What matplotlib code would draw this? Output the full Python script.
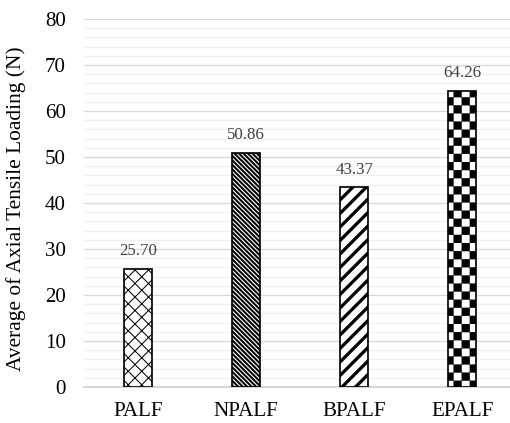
import warnings

import numpy as np
import matplotlib
matplotlib.use("Agg")
from matplotlib import pyplot as plt
from matplotlib import hatch as mhatch
from matplotlib.ticker import MultipleLocator

warnings.filterwarnings("ignore")

categories = ["PALF", "NPALF", "BPALF", "EPALF"]
values = [25.70, 50.86, 43.37, 64.26]
value_labels = ["25.70", "50.86", "43.37", "64.26"]
hatches = ["xx", "\\\\\\\\\\\\", "//", "c"]
hatch_widths = [0.9, 1.8, 2.9, 0.2]
y_ticks = [0, 10, 20, 30, 40, 50, 60, 70, 80]


class CheckerHatch(mhatch.HatchPatternBase):
    # filled checkerboard squares, one "c" gives 10 cells per tile side
    filled = True

    def __init__(self, hatch, density):
        self.cells = 10 * hatch.count("c")
        self.num_squares = self.cells * self.cells // 2
        self.num_vertices = self.num_squares * 5

    def set_vertices_and_codes(self, vertices, codes):
        s = 1.0 / self.cells
        k = 0
        for i in range(self.cells):
            for j in range(self.cells):
                if (i + j) % 2:
                    continue
                x0, y0 = i * s, j * s
                vertices[k:k + 5] = [(x0, y0), (x0 + s, y0), (x0 + s, y0 + s),
                                     (x0, y0 + s), (x0, y0)]
                codes[k] = matplotlib.path.Path.MOVETO
                codes[k + 1:k + 4] = matplotlib.path.Path.LINETO
                codes[k + 4] = matplotlib.path.Path.CLOSEPOLY
                k += 5


mhatch._hatch_types.append(CheckerHatch)

dpi = 81
plt.rcParams["font.family"] = ["Liberation Serif", "DejaVu Serif"]
plt.rcParams["hatch.color"] = "black"

fig = plt.figure(figsize=(511 / dpi, 423 / dpi), dpi=dpi)
ax = fig.add_axes([84 / 511, 36 / 423, 427 / 511, 368 / 423])

x = np.arange(len(categories))
bars = ax.bar(x, values, width=0.26, color="white", edgecolor="black",
              linewidth=1.5, zorder=3)
for bar, h, hw in zip(bars, hatches, hatch_widths):
    bar.set_hatch(h)
    if hasattr(bar, "set_hatch_linewidth"):
        bar.set_hatch_linewidth(hw)

for xi, v, lab in zip(x, values, value_labels):
    ax.annotate(lab, (xi, v), xytext=(0, 12.4), textcoords="offset points",
                ha="center", va="baseline", fontsize=15, color="#404040")

ax.set_xlim(-0.5, 3.45)
ax.set_ylim(0, 80)
ax.set_yticks(y_ticks)
ax.yaxis.set_minor_locator(MultipleLocator(2))
ax.set_xticks(x)
ax.set_xticklabels(categories)

ax.grid(which="major", axis="y", color="#d9d9d9", linewidth=1.2, zorder=0)
ax.grid(which="minor", axis="y", color="#f0f0f0", linewidth=1.2, zorder=0)
ax.set_axisbelow(True)

for side in ["top", "right", "left"]:
    ax.spines[side].set_visible(False)
ax.spines["bottom"].set_color("#d0d0d0")
ax.spines["bottom"].set_linewidth(1.5)

ax.tick_params(axis="both", which="both", length=0, labelsize=18.7,
               colors="black")
ax.tick_params(axis="x", pad=13.5)
ax.tick_params(axis="y", pad=16)

ax.set_ylabel("Average of Axial Tensile Loading (N)", fontsize=19)
ax.yaxis.set_label_coords(-0.137, 0.485)

fig.savefig("out.png", dpi=dpi)
